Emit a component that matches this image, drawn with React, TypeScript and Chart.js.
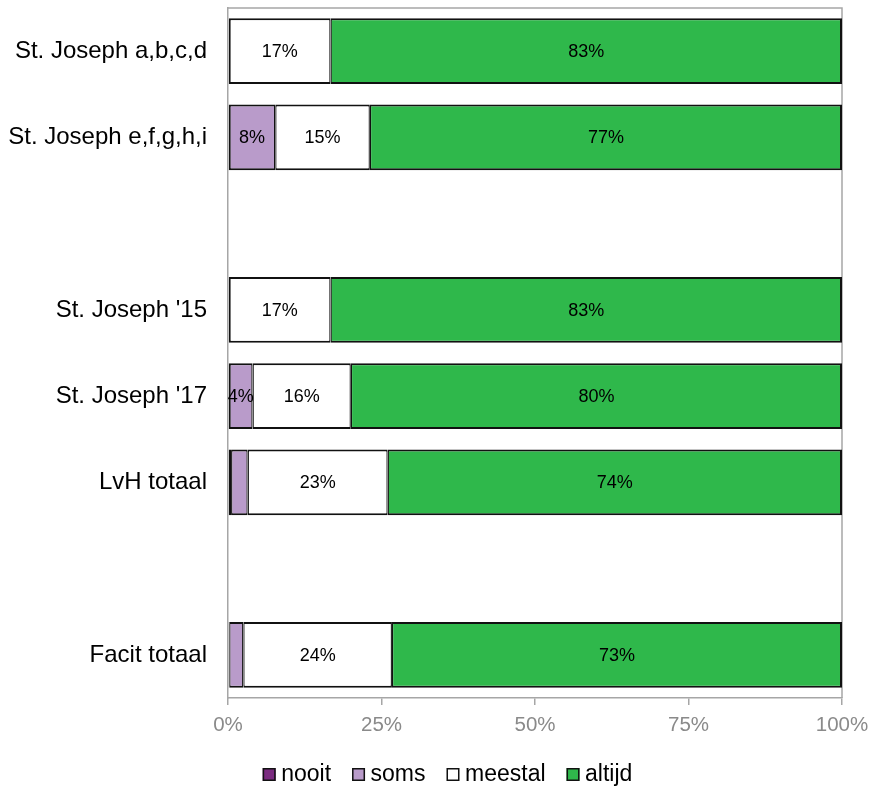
import React, { useEffect, useRef } from "react";
import { Chart, registerables } from "chart.js";

Chart.register(...registerables);

const categories = [
  "St. Joseph a,b,c,d",
  "St. Joseph e,f,g,h,i",
  "",
  "St. Joseph '15",
  "St. Joseph '17",
  "LvH totaal",
  "",
  "Facit totaal",
];
const nooit = [0, 0, null, 0, 0, 0.5, null, 0.2];
const soms = [0, 7.7, null, 0, 4, 2.7, null, 2.3];
const meestal = [16.7, 15.4, null, 16.7, 16, 22.8, null, 24.2];
const altijd = [83.3, 76.9, null, 83.3, 80, 74.0, null, 73.3];
const seriesNames = ["nooit", "soms", "meestal", "altijd"];
const seriesColors = ["#7b2a80", "#b99bca", "#ffffff", "#2fb84b"];
const xTicks = [0, 25, 50, 75, 100];

const FONT = '"Liberation Sans", Arial, Helvetica, sans-serif';
const AXIS_GRAY = "#a6a6a6";
const EDGE = "#111111";

const rows = [nooit, soms, meestal, altijd];

const borderFor = (ctx: any) => {
  const i = ctx.dataIndex;
  const d = ctx.datasetIndex;
  const vals = rows.map((r) => (r[i] ?? 0) as number);
  let first = -1;
  let last = -1;
  vals.forEach((v, k) => {
    if (v > 0) {
      if (first < 0) first = k;
      last = k;
    }
  });
  return {
    top: 2,
    bottom: 2,
    left: d === first ? 2 : 1.3,
    right: d === last ? 2 : 1.3,
  };
};

const framePlugin = {
  id: "frame",
  beforeDatasetsDraw(chart: any) {
    const { ctx } = chart;
    const { top, right, bottom, left } = chart.chartArea;
    ctx.save();
    ctx.strokeStyle = AXIS_GRAY;
    ctx.lineWidth = 1.5;
    ctx.beginPath();
    ctx.moveTo(left, top);
    ctx.lineTo(right, top);
    ctx.lineTo(right, bottom);
    ctx.stroke();
    ctx.restore();
  },
};

const segLabelPlugin = {
  id: "segLabels",
  afterDatasetsDraw(chart: any) {
    const { ctx } = chart;
    ctx.save();
    ctx.font = `18px ${FONT}`;
    ctx.fillStyle = "#000";
    ctx.textAlign = "center";
    ctx.textBaseline = "middle";
    chart.data.datasets.forEach((ds: any, di: number) => {
      const meta = chart.getDatasetMeta(di);
      meta.data.forEach((bar: any, i: number) => {
        const v = ds.data[i];
        if (v == null || v < 3.5) return;
        const { x, y, base } = bar.getProps(["x", "y", "base"], true);
        ctx.fillText(Math.round(v) + "%", (x + base) / 2, y + 1);
      });
    });
    ctx.restore();
  },
};

const legendPlugin = {
  id: "customLegend",
  afterDraw(chart: any) {
    const { ctx } = chart;
    ctx.save();
    ctx.font = `23px ${FONT}`;
    const box = 13;
    const gap = 5.5;
    const itemGap = 21;
    const widths = seriesNames.map((n) => ctx.measureText(n).width);
    const total =
      widths.reduce((a, b) => a + b, 0) +
      seriesNames.length * (box + gap) +
      (seriesNames.length - 1) * itemGap;
    let x = chart.width / 2 + 13 - total / 2;
    const baseY = chart.chartArea.bottom + 83;
    seriesNames.forEach((n, i) => {
      ctx.fillStyle = seriesColors[i];
      ctx.fillRect(x, baseY - box, box, box);
      ctx.strokeStyle = EDGE;
      ctx.lineWidth = 1.5;
      ctx.strokeRect(x + 0.75, baseY - box + 0.75, box - 1.5, box - 1.5);
      ctx.fillStyle = "#000";
      ctx.textAlign = "left";
      ctx.textBaseline = "alphabetic";
      ctx.fillText(n, x + box + gap, baseY);
      x += box + gap + widths[i] + itemGap;
    });
    ctx.restore();
  },
};

export default function App() {
  const canvasRef = useRef<HTMLCanvasElement | null>(null);

  useEffect(() => {
    document.body.style.margin = "0";
    const canvas = canvasRef.current;
    if (!canvas) return;
    Chart.defaults.font.family = FONT;
    const datasets = seriesNames.map((name, k) => ({
      label: name,
      data: rows[k],
      backgroundColor: seriesColors[k],
      borderColor: EDGE,
      borderWidth: borderFor,
      borderSkipped: false as const,
      inflateAmount: 0,
      barPercentage: 0.765,
      categoryPercentage: 1,
    }));
    const chart = new Chart(canvas, {
      type: "bar",
      data: { labels: categories, datasets },
      plugins: [framePlugin, segLabelPlugin, legendPlugin],
      options: {
        indexAxis: "y",
        animation: false,
        responsive: false,
        layout: { padding: { top: 8, right: 27, bottom: 49, left: 0 } },
        plugins: {
          legend: { display: false },
          tooltip: { enabled: false },
        },
        scales: {
          x: {
            stacked: true,
            min: 0,
            max: 100,
            afterBuildTicks: (s: any) => {
              s.ticks = xTicks.map((v) => ({ value: v }));
            },
            afterFit: (s: any) => {
              s.height = 40;
              s.paddingLeft = 0;
              s.paddingRight = 0;
            },
            ticks: {
              callback: (v: any) => v + "%",
              color: "#8a8a8a",
              font: { size: 20.5, family: FONT },
              padding: 8,
              maxRotation: 0,
            },
            grid: {
              drawOnChartArea: false,
              drawTicks: true,
              tickLength: 7,
              color: AXIS_GRAY,
              lineWidth: 1.5,
            },
            border: { color: AXIS_GRAY, width: 1.5 },
          },
          y: {
            stacked: true,
            afterFit: (s: any) => {
              s.width = 228;
              s.paddingTop = 0;
              s.paddingBottom = 0;
            },
            ticks: {
              color: "#000",
              font: { size: 24, family: FONT },
              padding: 21,
              autoSkip: false,
            },
            grid: { drawOnChartArea: false, drawTicks: false },
            border: { color: AXIS_GRAY, width: 1.5 },
          },
        },
      },
    });
    return () => chart.destroy();
  }, []);

  return (
    <div style={{ width: 869, height: 787 }}>
      <canvas ref={canvasRef} width={869} height={787} style={{ display: "block" }} />
    </div>
  );
}
